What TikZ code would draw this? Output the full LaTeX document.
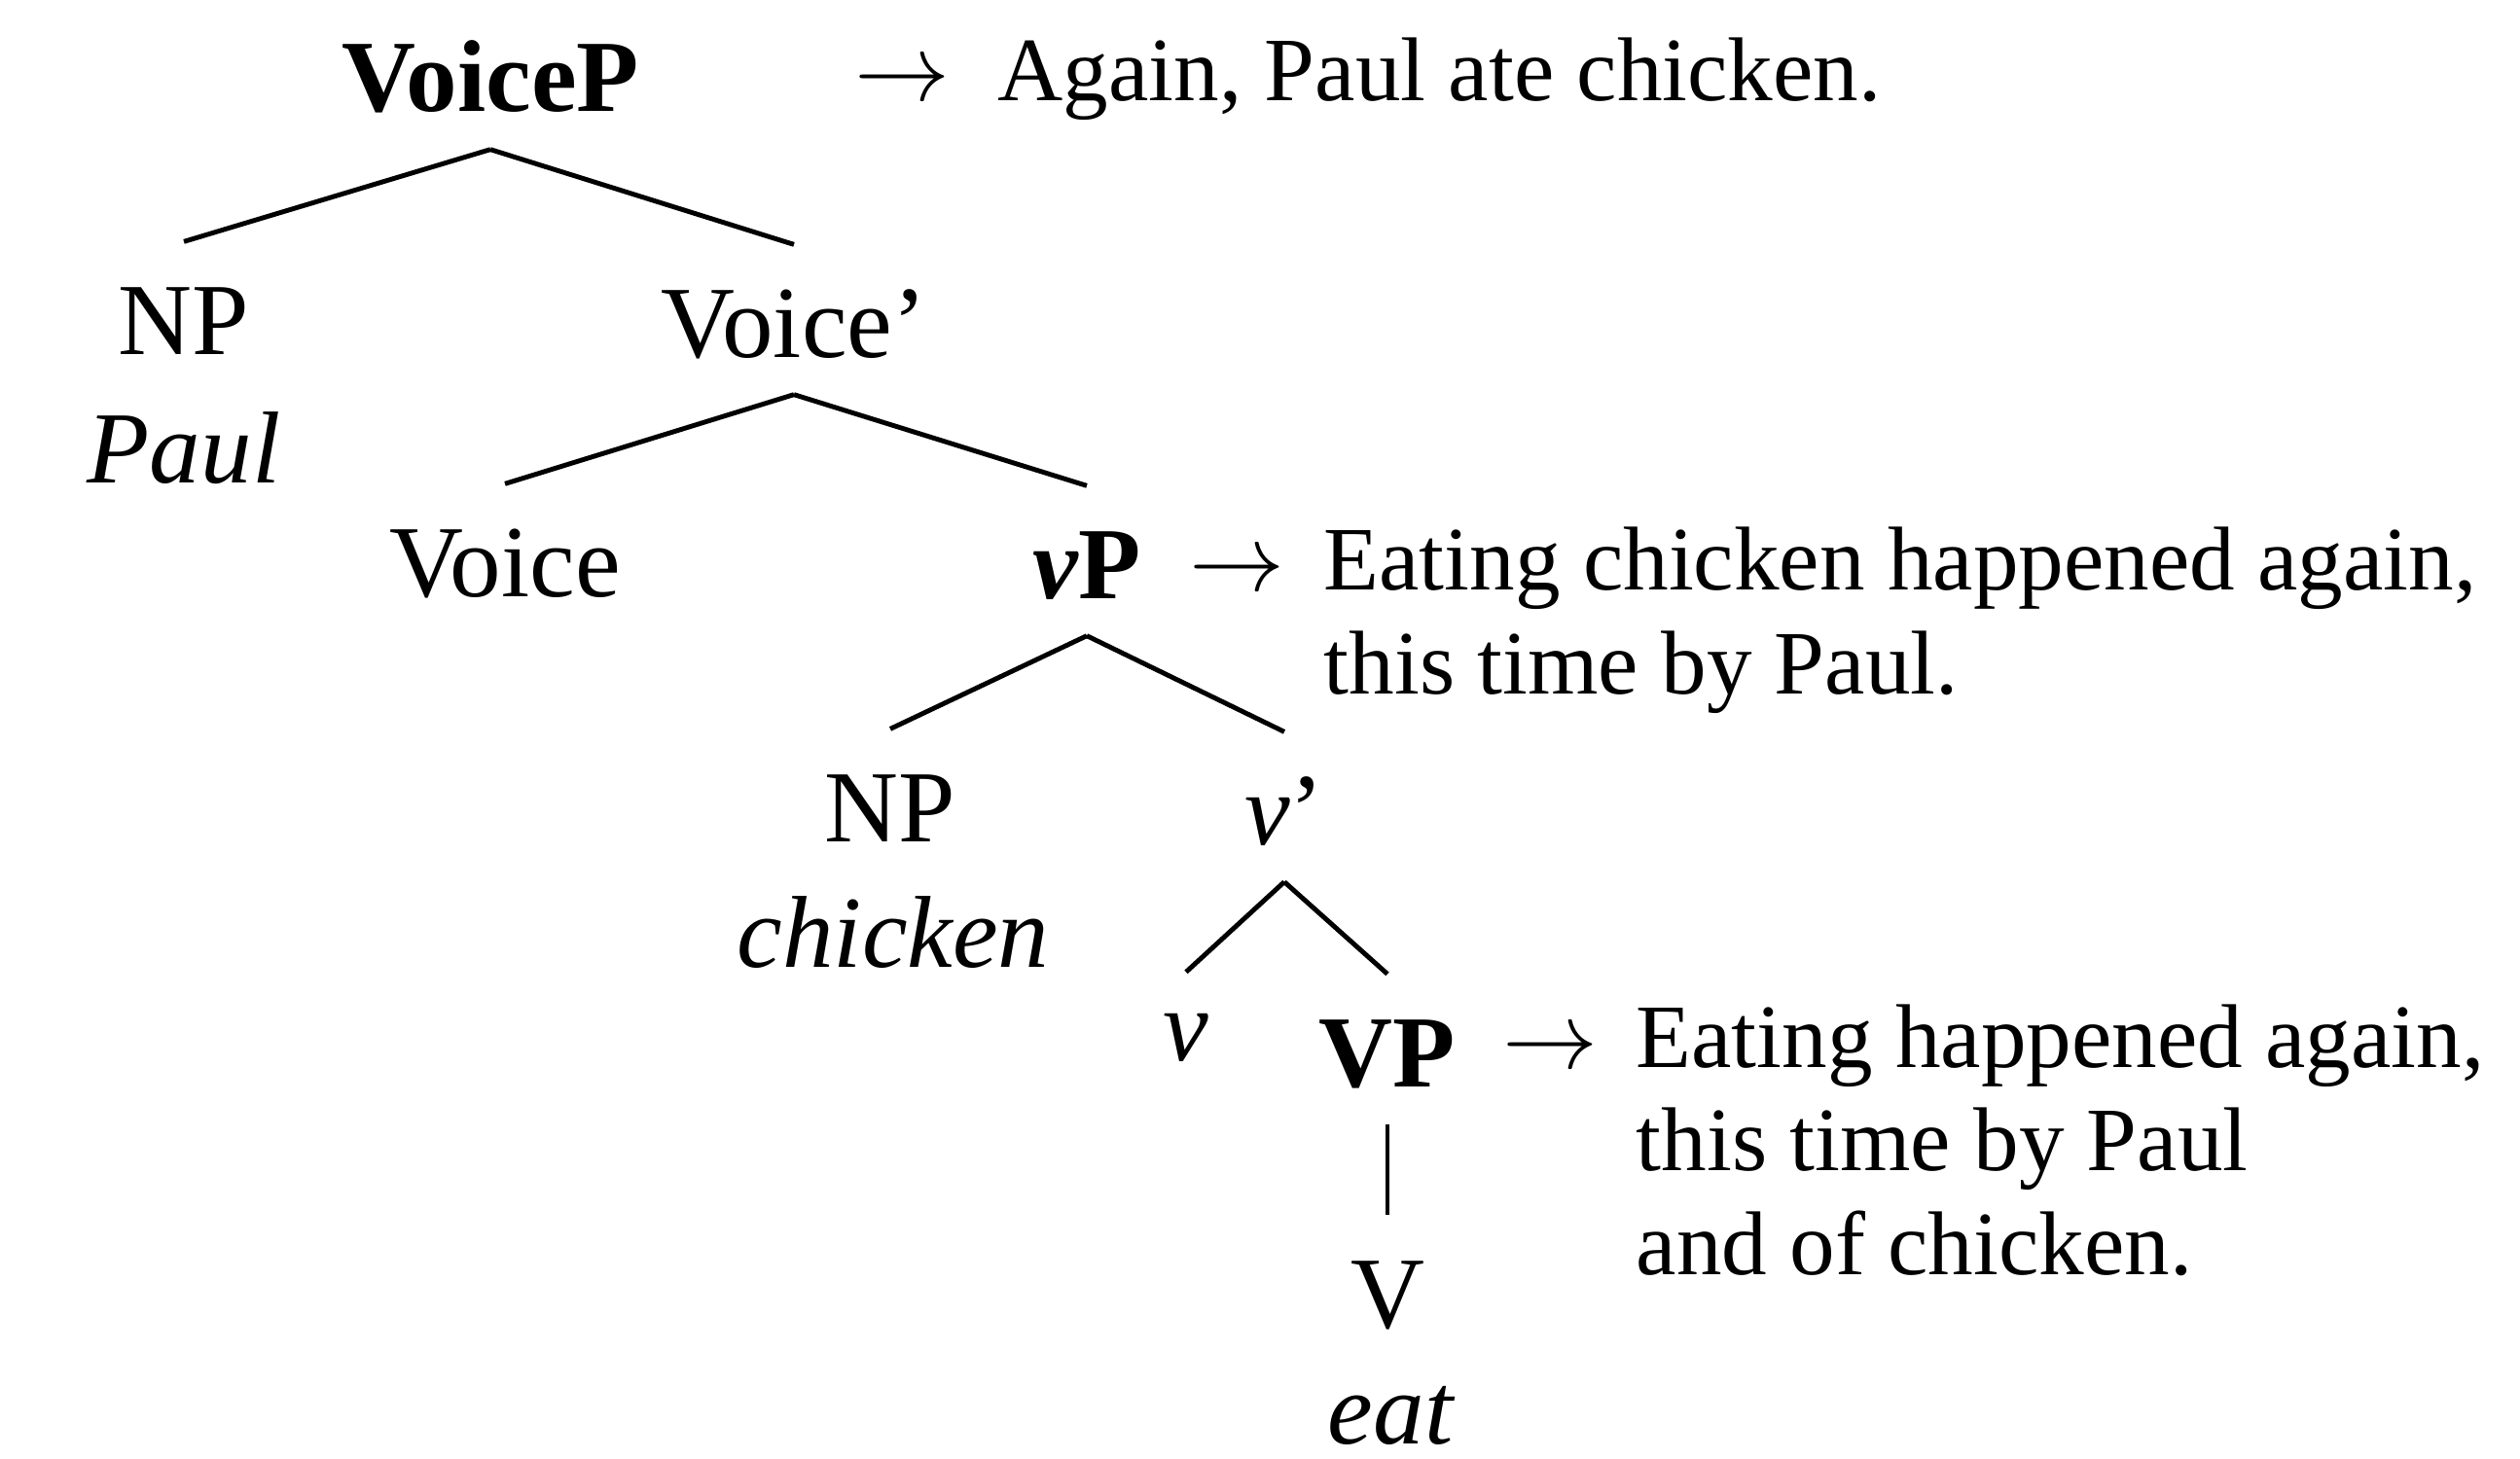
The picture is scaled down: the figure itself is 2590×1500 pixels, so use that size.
\documentclass[tikz,border=0pt]{standalone}
\usepackage{fontspec}
\setmainfont{Liberation Serif}

% Drawing unit: 0.1 mm, y axis pointing down the page
\tikzset{
  x=0.1mm, y=-0.1mm,
  lbl/.style={inner sep=0pt, anchor=base, text height=32.7pt, text depth=10.8pt,
              font=\fontsize{29.9pt}{34pt}\selectfont},
  word/.style={inner sep=0pt, anchor=base, font=\fontsize{29.9pt}{34pt}\selectfont\itshape},
  branch/.style={line width=1.4pt},
  gloss/.style={inner sep=0pt, anchor=base west, align=left,
                font=\fontsize{26.5pt}{30.2pt}\selectfont},
}
% arrow between a phrase and its paraphrase
\newcommand{\paraarrow}{\scalebox{1.12}{$\rightarrow$}}

\begin{document}
\begin{tikzpicture}
\useasboundingbox (0,0) rectangle (2590,1500);

% Tree labels
\node[lbl] (voicep)  at (504,115)   {\textbf{VoiceP}};
\node[lbl] (np1)     at (189,364)   {NP};
\node[word] (paul)   at (189,496)   {Paul};
\node[lbl] (voicebar) at (816,367)  {Voice’};
\node[lbl] (voice)   at (519,613)   {Voice};
\node[lbl] (vp)      at (1117,615)  {\textbf{\textit{v}P}};
\node[lbl] (np2)     at (915,865)   {NP};
\node[word] (chicken) at (918,994)  {chicken};
\node[lbl] (vbar)    at (1320,868)  {\textit{v}’};
\node[lbl, text height=25.6pt] (vhead) at (1219,1090) {\textit{v}};
\node[lbl] (bigvp)   at (1426,1117) {\textbf{VP}};
\node[lbl] (verb)    at (1426,1365) {V};
\node[word] (eat)    at (1429,1484) {eat};

% Branches
\draw[branch] (voicep.south) -- (np1.north);
\draw[branch] (voicep.south) -- (voicebar.north);
\draw[branch] (voicebar.south) -- (voice.north);
\draw[branch] (voicebar.south) -- (vp.north);
\draw[branch] (vp.south) -- (np2.north);
\draw[branch] (vp.south) -- (vbar.north);
\draw[branch] (vbar.south) -- (vhead.north);
\draw[branch] (vbar.south) -- (bigvp.north);
\draw[branch] (bigvp.south) -- (verb.north);

% Paraphrases (a multi-line node sits on the baseline of its last line)
\node[gloss] (arr1) at (878,104)  {\paraarrow};
\node[gloss] (g1)   at (1025,104) {Again, Paul ate chicken.};
\node[gloss] (arr2) at (1222,607) {\paraarrow};
\node[gloss] (g2)   at (1360,713) {Eating chicken happened again,\\ this time by Paul.};
\node[gloss] (arr3) at (1544,1098) {\paraarrow};
\node[gloss] (g3)   at (1681,1310) {Eating happened again,\\ this time by Paul\\ and of chicken.};
\end{tikzpicture}
\end{document}
